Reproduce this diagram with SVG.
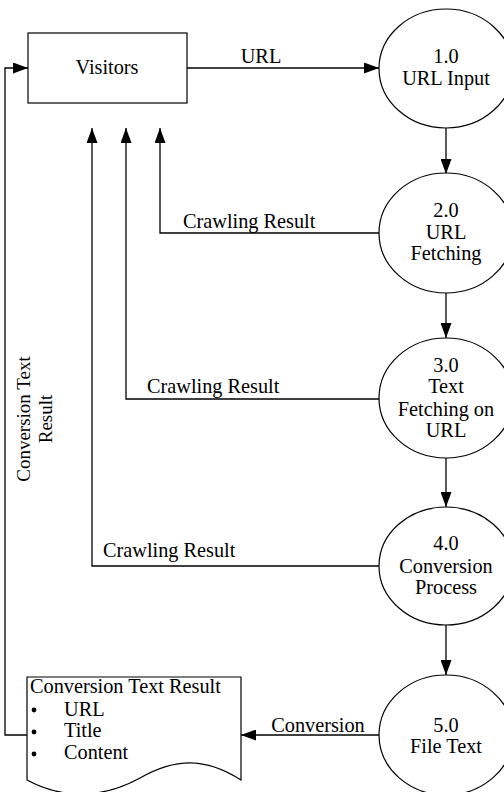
<svg xmlns="http://www.w3.org/2000/svg" width="504" height="792" viewBox="0 0 504 792">
  <style>
    .shape { fill: #fff; stroke: #000; stroke-width: 1.2; }
    .flow { fill: none; stroke: #000; stroke-width: 1.3; }
    text { font-family: "Liberation Serif", "Times New Roman", serif; font-size: 20.3px; fill: #000; }
    .c { text-anchor: middle; }
    .v { font-size: 19px; }
  </style>
  <defs>
    <marker id="arrow" viewBox="0 0 15 11" refX="15" refY="5.5" markerWidth="15" markerHeight="11" markerUnits="userSpaceOnUse" orient="auto">
      <path d="M0,0 L15,5.5 L0,11 Z" fill="#000"/>
    </marker>
  </defs>

  <!-- data flows -->
  <g id="connectors">
    <path class="flow" d="M187,68 H379" marker-end="url(#arrow)"/>
    <path class="flow" d="M446,128 V174" marker-end="url(#arrow)"/>
    <path class="flow" d="M446,293 V338" marker-end="url(#arrow)"/>
    <path class="flow" d="M446,458 V507" marker-end="url(#arrow)"/>
    <path class="flow" d="M446,625 V675" marker-end="url(#arrow)"/>
    <path class="flow" d="M379,233 H160 V128" marker-end="url(#arrow)"/>
    <path class="flow" d="M379,399 H126 V128" marker-end="url(#arrow)"/>
    <path class="flow" d="M379,566 H92 V128" marker-end="url(#arrow)"/>
    <path class="flow" d="M379,735 H241" marker-end="url(#arrow)"/>
    <path class="flow" d="M27,735 H5 V68 H28" marker-end="url(#arrow)"/>
    <text class="c" x="261" y="63">URL</text>
    <text x="183" y="228">Crawling Result</text>
    <text x="147" y="393">Crawling Result</text>
    <text x="103" y="557">Crawling Result</text>
    <text class="c" x="318" y="732">Conversion</text>
    <text class="c v" transform="translate(30,419) rotate(-90)">Conversion Text</text>
    <text class="c v" transform="translate(52,419) rotate(-90)">Result</text>
  </g>

  <g id="visitors">
    <rect class="shape" x="28" y="33" width="159" height="70"/>
    <text class="c" x="107" y="74">Visitors</text>
  </g>

  <g id="p1">
    <ellipse class="shape" cx="446" cy="68.5" rx="67" ry="59.5"/>
    <text class="c" x="446" y="63">1.0</text>
    <text class="c" x="446" y="85">URL Input</text>
  </g>

  <g id="p2">
    <ellipse class="shape" cx="446" cy="233" rx="67" ry="60"/>
    <text class="c" x="446" y="217">2.0</text>
    <text class="c" x="446" y="239">URL</text>
    <text class="c" x="446" y="260">Fetching</text>
  </g>

  <g id="p3">
    <ellipse class="shape" cx="446" cy="398" rx="67" ry="60"/>
    <text class="c" x="446" y="372">3.0</text>
    <text class="c" x="446" y="393">Text</text>
    <text class="c" x="446" y="416">Fetching on</text>
    <text class="c" x="446" y="437">URL</text>
  </g>

  <g id="p4">
    <ellipse class="shape" cx="446" cy="566" rx="67" ry="59"/>
    <text class="c" x="446" y="550">4.0</text>
    <text class="c" x="446" y="573">Conversion</text>
    <text class="c" x="446" y="594">Process</text>
  </g>

  <g id="p5">
    <ellipse class="shape" cx="446" cy="735" rx="67" ry="60"/>
    <text class="c" x="446" y="732">5.0</text>
    <text class="c" x="446" y="753">File Text</text>
  </g>

  <g id="result-doc">
    <path class="shape" d="M27,677 H241 V780 C205,757 175,758 140,778 C100,800 60,798 27,780 Z"/>
    <text x="30" y="693">Conversion Text Result</text>
    <circle cx="34" cy="710" r="2.4"/>
    <circle cx="34" cy="732" r="2.4"/>
    <circle cx="34" cy="754" r="2.4"/>
    <text x="64" y="716">URL</text>
    <text x="64" y="737">Title</text>
    <text x="64" y="759">Content</text>
  </g>
</svg>
